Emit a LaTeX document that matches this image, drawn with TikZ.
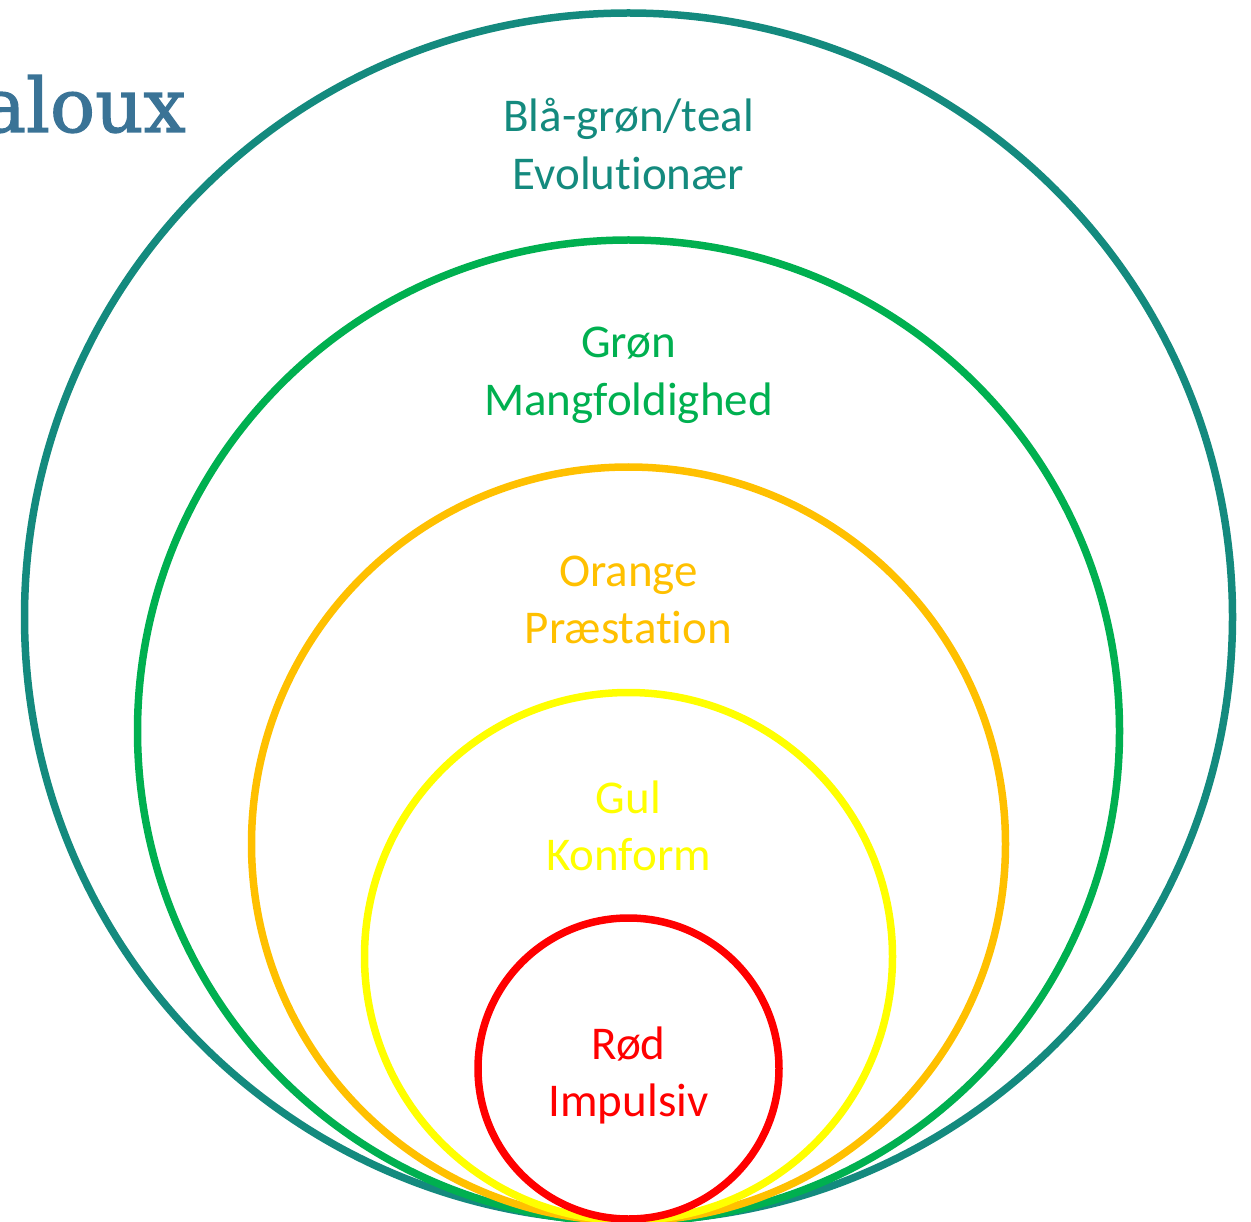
\documentclass[tikz,border=0pt]{standalone}
\usepackage{fontspec}
\setmainfont{Carlito}[Ligatures=NoCommon]
\newfontfamily\slabfont{DejaVu Serif}[FakeBold=1.6]
\definecolor{tealc}{HTML}{148A7E}
\definecolor{greenc}{HTML}{00B050}
\definecolor{orangec}{HTML}{FFC000}
\definecolor{yellowc}{HTML}{FFFF00}
\definecolor{redc}{HTML}{FF0000}
\definecolor{titlec}{HTML}{3A7396}
\begin{document}
\begin{tikzpicture}[x=1pt,y=-1pt,
  ring/.style={line width=7.5pt},
  lbl/.style={anchor=base,inner sep=0pt,font=\fontsize{47}{58}\selectfont}]
\useasboundingbox (0,0) rectangle (1251,1222);
% nested circles, all touching at the bottom
\coordinate (cteal) at (628.5,617);
\coordinate (cgreen) at (628.5,731);
\coordinate (corange) at (628.5,844);
\coordinate (cyellow) at (628.5,956.5);
\coordinate (cred) at (628.5,1068.5);
\draw[ring,tealc] (cteal) circle[radius=604pt];
\draw[ring,greenc] (cgreen) circle[radius=491pt];
\draw[ring,orangec] (corange) circle[radius=377pt];
\draw[ring,yellowc] (cyellow) circle[radius=264pt];
\draw[ring,redc] (cred) circle[radius=150.5pt];
% labels
\node[lbl,tealc] (t1) at (628.5,132) {Blå-grøn/teal};
\node[lbl,tealc] (t2) at (628.5,190) {Evolutionær};
\node[lbl,greenc] (g1) at (628.5,358) {Grøn};
\node[lbl,greenc] (g2) at (628.5,416) {Mangfoldighed};
\node[lbl,orangec] (o1) at (628.5,586) {Orange};
\node[lbl,orangec] (o2) at (628.5,643) {Præstation};
\node[lbl,yellowc] (y1) at (628.5,813) {Gul};
\node[lbl,yellowc] (y2) at (628.5,870) {Konform};
\node[lbl,redc] (r1) at (628.5,1059) {Rød};
\node[lbl,redc] (r2) at (628.5,1116) {Impulsiv};
% title fragment at the left edge
\node[anchor=base east,inner sep=0pt,text=titlec,font=\slabfont\fontsize{75}{80}\selectfont] (title) at (186,132) {aloux};
\end{tikzpicture}
\end{document}
